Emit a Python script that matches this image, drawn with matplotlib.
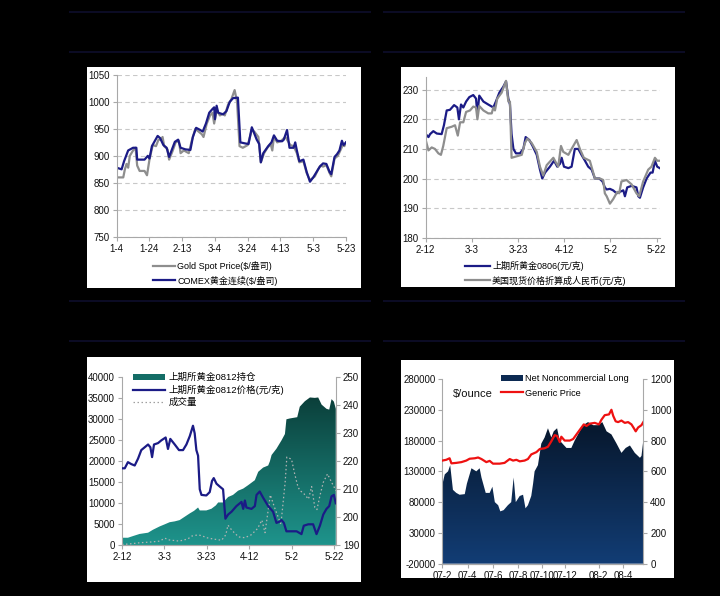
import numpy as np
import matplotlib
matplotlib.use("Agg")
import matplotlib.pyplot as plt
from matplotlib.colors import LinearSegmentedColormap
from matplotlib.patches import Rectangle, Patch
from matplotlib.lines import Line2D

plt.rcParams['font.family'] = ['Liberation Sans', 'Noto Sans CJK SC', 'DejaVu Sans']
plt.rcParams['axes.unicode_minus'] = False

# ---- chart 1 : gold spot vs COMEX ($/oz), x in days from 1-4
c1_ticks = ['1-4', '1-24', '2-13', '3-4', '3-24', '4-13', '5-3', '5-23']
comex_day = [0, 3, 4.5, 7, 10, 12, 12.5, 17, 19, 20, 21.5, 25, 26.5, 28.5, 30.5, 32, 33.5,
             35.5, 37.5, 39, 42, 45, 46.5, 48.5, 51, 52.5, 54.5, 56.5, 58.5, 59.5, 60, 61,
             62, 65, 67, 69, 71, 74, 75.5, 78.5, 80.5, 82.5, 85.5, 87, 88, 89.5, 92.5, 94.5,
             96, 98, 101, 102, 104, 105.5, 108, 109, 110, 111.5, 114, 116, 118, 120, 122,
             124, 126, 128, 130, 131, 133, 134.5, 136, 137.5, 138.5, 140]
comex_val = [878, 875, 890, 910, 915, 915, 893, 893, 900, 895, 918, 937, 933, 920, 915, 898,
             910, 926, 930, 915, 912, 911, 935, 952, 948, 945, 960, 980, 987, 990, 968, 993,
             980, 977, 983, 1000, 1007, 1008, 925, 923, 922, 953, 930, 922, 888, 905, 918,
             925, 938, 928, 927, 930, 948, 915, 915, 925, 910, 890, 893, 870, 852, 860, 870,
             880, 886, 885, 870, 866, 898, 903, 910, 928, 920, 925]
spot_day = [0, 4, 5, 6, 7, 8, 10, 11.5, 12.5, 14, 17, 18.5, 20, 22, 24, 25.5, 27, 28, 29, 31,
            32, 34, 36, 38, 39, 41, 44, 46, 48, 50, 52, 53, 55, 57, 58.5, 59.5, 61, 63, 65,
            66, 68, 70, 72, 73.5, 75, 77, 80, 82.5, 84, 86.5, 88, 90, 92, 94, 95, 96, 98,
            100, 103, 105, 106, 108, 110, 111.5, 114, 116, 118, 121, 123, 124.5, 126, 128,
            130, 131, 133, 135, 137, 138, 139, 140]
spot_val = [860, 860, 875, 885, 878, 900, 910, 915, 882, 872, 872, 864, 893, 920, 918, 930,
            930, 935, 918, 912, 893, 908, 925, 928, 905, 910, 905, 930, 950, 945, 940, 935,
            960, 975, 980, 960, 985, 975, 978, 975, 995, 1005, 1022, 1000, 918, 915, 920,
            948, 945, 935, 888, 905, 915, 922, 910, 935, 925, 927, 935, 925, 920, 918, 905,
            888, 890, 868, 855, 862, 875, 882, 880, 883, 868, 862, 895, 900, 913, 920, 918, 925]

# ---- chart 2 : SHFE 0806 vs US spot in RMB (yuan/g), x in days from 2-12
c2_ticks = ['2-12', '3-3', '3-23', '4-12', '5-2', '5-22']
shfe_day = [0, 1.2, 1.9, 3.3, 4.8, 6.9, 7.9, 9.1, 10.5, 12.3, 13.7, 14.4, 15.3, 16.3, 17.5,
            18.9, 20.6, 21.8, 22.4, 23.2, 25, 27.1, 29.3, 30.4, 31.9, 33.6, 34.8, 35.8, 36.5,
            37.2, 38, 39.1, 40.8, 42.3, 43.3, 44.9, 46.3, 48.1, 49.5, 50.5, 51.7, 53.8, 55.6,
            57, 58.2, 58.9, 59.9, 61.8, 63.2, 63.9, 64.6, 66.1, 66.8, 67.5, 69, 70.4, 71.9,
            73.3, 75.2, 76.6, 77.6, 78.4, 79.8, 81.2, 82.7, 84.1, 85.6, 86.3, 87.3, 89.2,
            91.3, 92.1, 92.8, 94.2, 95.7, 97.4, 98.3, 99.3, 100.3, 101.4]
shfe_val = [215, 214, 215, 216, 215.2, 215, 218, 223, 223.2, 224.8, 224, 220, 225, 224, 226,
            227.5, 228.2, 227, 221.5, 228, 226, 225, 224, 226, 229, 231, 232.8, 227, 225,
            215, 210, 208.5, 208.5, 210, 214, 213, 211, 208, 203, 200, 202, 204, 206, 204,
            205, 207, 204, 203.5, 204, 207, 210, 210, 209, 208, 206, 204, 203, 200, 200, 199,
            197, 196.3, 196.5, 196, 195, 195.5, 196, 194, 197, 197.5, 197, 194, 193.5, 197,
            200, 202, 202, 206, 204, 203.5]
usrmb_day = [0, 1.2, 2.6, 4, 5.5, 6.6, 7.6, 9.1, 11.3, 12.7, 13.9, 14.9, 16.3, 17.5, 19.2,
             20.6, 21.8, 22.4, 23.2, 25, 27.1, 28.6, 29.3, 30, 31, 32.9, 34.8, 35.8, 36.5,
             37.2, 39.4, 41.6, 43, 44, 45.9, 48.1, 49.5, 50.9, 52.4, 55.3, 57.4, 58.6, 59.6,
             61.8, 63.2, 65.4, 66.8, 68.5, 71.1, 73.3, 75.5, 76.9, 77.6, 78.4, 79.8, 81.2,
             83, 83.8, 84.8, 87, 89.2, 91.3, 92.5, 94.2, 96.4, 97.8, 99.3, 100.3, 101.4]
usrmb_val = [213, 209.5, 210.5, 210, 208.5, 208, 211, 217, 217.5, 218, 214.5, 219, 219, 222.5,
             223, 224.3, 224, 220, 224.5, 223, 222, 222, 224, 223, 227, 229, 233, 226, 226,
             207, 207.5, 208, 212, 213.5, 212, 209, 204, 201, 204.5, 207, 204, 211, 209, 208,
             210, 213, 210, 207, 206, 200, 200, 199.5, 195, 194, 191.5, 193, 195.5, 195, 199,
             199.5, 198, 195, 194, 199, 203, 204, 207, 206, 206]

# ---- chart 3 : SHFE 0812 open interest / price / volume
oi_day = [0, 2.8, 5.2, 8.3, 12.3, 14.6, 17.8, 20.2, 22.5, 24.9, 27.2, 29.6, 32, 34, 35.9,
          36.7, 39.8, 42.2, 44.3, 45.4, 47.7, 50.1, 52.4, 54.8, 57.2, 59.5, 62.7, 64.3, 66.6,
          69, 69.8, 70.6, 72.9, 75.3, 76.9, 77.6, 79.2, 82.7, 83.9, 86.3, 88.7, 91, 92.6,
          94.2, 96.5, 97.8, 98.9, 100, 100.9]
oi_val = [1800, 1800, 2200, 2700, 3000, 3700, 4500, 5000, 5500, 5700, 6000, 6800, 7600, 8200,
          9000, 8300, 8300, 8700, 9500, 10200, 10200, 11500, 12000, 13000, 13500, 14300, 15500,
          17500, 18500, 19000, 20000, 21500, 23000, 25000, 26500, 30000, 30200, 30500, 33000,
          34300, 35200, 35100, 35200, 33500, 32500, 32300, 34800, 34200, 32500]
vol_day = [0, 3, 8.3, 14, 17.8, 20.2, 22, 27, 31, 33, 36, 38, 40, 43, 47, 49, 50, 52, 55, 58,
           61, 64, 66, 67.5, 70, 72, 75, 77, 77.8, 80, 81.5, 83, 84, 85.5, 88, 89.5, 91, 92,
           93.5, 95, 97, 98.9, 100, 100.9]
vol_val = [200, 300, 600, 800, 1000, 1700, 1300, 1000, 1500, 2200, 2500, 2200, 1800, 1500,
           1200, 2500, 4800, 3500, 2000, 1800, 2500, 4000, 6000, 3000, 12000, 9000, 5000,
           15000, 21000, 20500, 17000, 14000, 13000, 12500, 11000, 14000, 9000, 8500, 12000,
           15000, 17000, 15000, 14000, 13000]
p0812_day = [0, 1.3, 2.8, 4.4, 6, 7.6, 9.1, 10.7, 12.3, 13.4, 14.2, 15.1, 17, 18.6, 20.6,
             21.7, 22.8, 24.9, 26.9, 28.8, 30.4, 32, 33.5, 34.3, 35.1, 35.9, 36.7, 37.5,
             39.8, 41.4, 42.5, 43.3, 44.6, 46.1, 47.7, 48.8, 50.1, 51.7, 54, 56.4, 57.2, 58,
             58.7, 61.1, 62.7, 63.5, 65, 66.6, 69, 71.3, 72.9, 74.5, 75.3, 76.4, 77.6, 80,
             82.4, 84.7, 85.8, 87.9, 90.2, 91.8, 93.4, 95, 96.5, 97.8, 98.9, 100, 100.9]
p0812_val = [217.5, 217.5, 219.7, 219, 218.5, 221, 224, 225, 226, 225, 221.5, 226, 226.5,
             227.5, 228.5, 224.4, 228, 226, 224, 224, 226, 229, 232.7, 230, 224, 222, 210,
             208, 207.8, 209, 213, 214, 212, 211, 210, 199.5, 201, 202, 204, 205.5, 203, 206,
             203.5, 203, 204, 208, 209.2, 207, 204, 202, 198, 198.5, 199, 198, 195, 195, 195,
             194, 197, 197.5, 197.5, 194, 197, 201, 203, 204, 207.5, 208, 205]

# ---- chart 4 : CFTC net noncommercial long vs generic price, x in weeks from 07-2
c4_ticks = ['07-2', '07-4', '07-6', '07-8', '07-10', '07-12', '08-2', '08-4']
c4_tickpos = [0, 8.3, 16.8, 25, 33, 40.5, 51.5, 59.6]
ncl_wk = [0, 0.8, 1.9, 2.6, 3.5, 4.6, 5.7, 7.4, 8.1, 9.6, 11.2, 12.3, 12.9, 14.3, 15.6, 16.5,
          17.3, 18.4, 19.1, 20.2, 21.6, 22.7, 23.5, 24.2, 25.5, 26.6, 27.4, 28.2, 29.3, 29.9,
          30.4, 31.5, 32.6, 33.7, 34.8, 35.9, 36.7, 37.8, 38.7, 39.6, 40.9, 42.5, 43.6, 44.7,
          46.4, 48, 49.7, 51.3, 52.7, 54.1, 55.7, 57.4, 59, 60.4, 61.8, 63.4, 65.1, 65.6, 66.2]
ncl_val = [108000, 125000, 130000, 140000, 100000, 95000, 92000, 93000, 110000, 135000,
           130000, 135000, 120000, 95000, 95000, 105000, 80000, 75000, 65000, 67000, 75000,
           80000, 120000, 80000, 90000, 92000, 70000, 75000, 90000, 110000, 130000, 140000,
           175000, 185000, 200000, 185000, 195000, 200000, 180000, 175000, 168000, 168000,
           180000, 190000, 205000, 210000, 205000, 205000, 210000, 195000, 190000, 175000,
           160000, 168000, 172000, 160000, 152000, 155000, 180000]
gp_wk = [0, 1.3, 2.4, 3, 4.6, 6.3, 7.9, 9, 10.7, 11.8, 12.9, 14.5, 15.6, 16.7, 18.9, 20.5,
         22.2, 23.3, 24.4, 25.5, 27.1, 28.2, 29.3, 31, 32.1, 33.7, 34.8, 35.9, 37, 37.8, 38.7,
         39.2, 40.3, 42, 43.1, 44.2, 45.3, 46.6, 47.5, 48.6, 50.2, 51.6, 52.4, 53.5, 54.9,
         55.7, 56.3, 57.1, 57.9, 59, 60.1, 61.2, 62.3, 63.1, 63.7, 64.5, 65.6, 66.2]
gp_val = [670, 675, 685, 652, 655, 660, 670, 682, 685, 690, 680, 660, 668, 650, 650, 655, 680,
          670, 675, 665, 670, 680, 710, 725, 745, 750, 760, 795, 835, 830, 790, 825, 800, 800,
          810, 840, 870, 905, 895, 910, 915, 905, 935, 965, 970, 1000, 960, 925, 920, 930,
          915, 920, 905, 880, 860, 885, 900, 920]

NAVY = '#1b1b86'
GRAY = '#8e8e8e'
AXC = '#a8a8a8'
W, H = 720, 596


def fbox(x0, y0, x1, y1):
    # pixel box (top-left origin) -> figure rect
    return [x0 / W, 1 - y1 / H, (x1 - x0) / W, (y1 - y0) / H]


def style(ax, right=False):
    for s in ['top', 'right', 'left', 'bottom']:
        ax.spines[s].set_visible(False)
    ax.spines['bottom'].set_visible(True)
    ax.spines['bottom'].set_color(AXC)
    side = 'right' if right else 'left'
    ax.spines[side].set_visible(True)
    ax.spines[side].set_color(AXC)
    ax.tick_params(colors=AXC, labelcolor='#111111', labelsize=7, length=3, width=0.8, pad=2)
    ax.set_facecolor('none')


def grad_fill(ax, x, y, base, top, c_bot, c_top):
    poly = ax.fill_between(x, y, base, facecolor='none', edgecolor='none')
    cmap = LinearSegmentedColormap.from_list('g', [c_bot, c_top])
    g = np.linspace(0, 1, 256).reshape(-1, 1)
    im = ax.imshow(g, aspect='auto', cmap=cmap, origin='lower',
                   extent=[x[0], x[-1], base, top], zorder=1, interpolation='bilinear')
    im.set_clip_path(poly.get_paths()[0], transform=ax.transData)


fig = plt.figure(figsize=(7.2, 5.96), dpi=100, facecolor='black')

# faint header rules
for yy in [12, 52, 301, 341]:
    for x0, x1 in [(70, 370), (384, 684)]:
        fig.add_artist(Line2D([x0 / W, x1 / W], [1 - yy / H, 1 - yy / H],
                              color='#0c0c26', lw=1.4, transform=fig.transFigure))

# white panels
for b in [(86.5, 66.5, 360.5, 288), (400.7, 66.7, 675, 287),
          (86.7, 356.7, 360.7, 582), (400.7, 360, 674, 578)]:
    r = fbox(*b)
    fig.add_artist(Rectangle((r[0], r[1]), r[2], r[3], facecolor='white',
                             edgecolor='none', transform=fig.transFigure, zorder=0))

# ---- panel 1
ax1 = fig.add_axes(fbox(116.7, 75, 346, 236.7))
style(ax1)
ax1.plot(spot_day, spot_val, color=GRAY, lw=1.6, label='Gold Spot Price($/盎司)')
ax1.plot(comex_day, comex_val, color=NAVY, lw=1.6, label='COMEX黄金连续($/盎司)')
ax1.set_xlim(0, 140)
ax1.set_ylim(750, 1050)
ax1.set_yticks(range(750, 1051, 50))
ax1.set_xticks(range(0, 141, 20))
ax1.set_xticklabels(c1_ticks)
ax1.yaxis.grid(True, color='#c8c8c8', ls=(0, (4, 3)), lw=0.8)
ax1.set_axisbelow(True)
ax1.legend(loc='upper left', bbox_to_anchor=(152.7 / W, 1 - 261 / H),
           bbox_transform=fig.transFigure, frameon=False, fontsize=6.5,
           handlelength=2.5, handletextpad=0.2, labelspacing=0.5, borderpad=0,
           borderaxespad=0)

# ---- panel 2
ax2 = fig.add_axes(fbox(425.7, 76.7, 660, 237.7))
style(ax2)
ax2.plot(shfe_day, shfe_val, color=NAVY, lw=1.6, label='上期所黄金0806(元/克)')
ax2.plot(usrmb_day, usrmb_val, color=GRAY, lw=1.6, label='美国现货价格折算成人民币(元/克)')
ax2.set_xlim(0, 101.5)
ax2.set_ylim(180, 234.4)
ax2.set_yticks(range(180, 231, 10))
ax2.set_xticks(range(0, 101, 20))
ax2.set_xticklabels(c2_ticks)
ax2.yaxis.grid(True, color='#c8c8c8', ls=(0, (4, 3)), lw=0.8)
ax2.set_axisbelow(True)
ax2.legend(loc='upper left', bbox_to_anchor=(465 / W, 1 - 261 / H),
           bbox_transform=fig.transFigure, frameon=False, fontsize=6.5,
           handlelength=2.8, handletextpad=0.2, labelspacing=0.5, borderpad=0,
           borderaxespad=0)

# ---- panel 3
ax3 = fig.add_axes(fbox(122, 377.3, 336, 545.3))
style(ax3)
grad_fill(ax3, oi_day, oi_val, 0, max(oi_val), '#1e948c', '#0b3f3a')
ax3.plot(vol_day, vol_val, color='#b4b4b4', lw=0.9, ls=(0, (1.2, 2)), zorder=2)
ax3.set_xlim(0, 101)
ax3.set_ylim(0, 40000)
ax3.set_yticks(range(0, 40001, 5000))
ax3.set_xticks(range(0, 101, 20))
ax3.set_xticklabels(c2_ticks)
ax3r = ax3.twinx()
style(ax3r, right=True)
ax3r.plot(p0812_day, p0812_val, color=NAVY, lw=1.6)
ax3r.set_ylim(190, 250)
ax3r.set_yticks(range(190, 251, 10))
ax3r.set_xlim(0, 101)
h3 = [Patch(facecolor='#146d66', edgecolor='none'),
      Line2D([], [], color=NAVY, lw=1.6),
      Line2D([], [], color='#a0a0a0', lw=0.9, ls=(0, (1.2, 2)))]
ax3r.legend(h3, ['上期所黄金0812持仓', '上期所黄金0812价格(元/克)', '成交量'],
            loc='upper left', bbox_to_anchor=(132.7 / W, 1 - 373 / H),
            bbox_transform=fig.transFigure, frameon=False, fontsize=6.8,
            handlelength=3.4, handletextpad=0.4, labelspacing=0.3, borderpad=0,
            borderaxespad=0)

# ---- panel 4
ax4 = fig.add_axes(fbox(442.3, 379, 643.3, 563.7))
style(ax4)
grad_fill(ax4, ncl_wk, ncl_val, -20000, max(ncl_val), '#123d75', '#07172c')
ax4.set_xlim(0, 66.2)
ax4.set_ylim(-20000, 280000)
ax4.set_yticks(range(-20000, 280001, 50000))
ax4.set_xticks(c4_tickpos)
ax4.set_xticklabels(c4_ticks)
ax4r = ax4.twinx()
style(ax4r, right=True)
ax4r.plot(gp_wk, gp_val, color='#ee1111', lw=1.6)
ax4r.set_ylim(0, 1200)
ax4r.set_yticks(range(0, 1201, 200))
ax4r.set_xlim(0, 66.2)
h4 = [Patch(facecolor='#0c2a52', edgecolor='none'), Line2D([], [], color='#ee1111', lw=1.6)]
ax4r.legend(h4, ['Net Noncommercial Long', 'Generic Price'],
            loc='upper left', bbox_to_anchor=(500.7 / W, 1 - 374 / H),
            bbox_transform=fig.transFigure, frameon=False, fontsize=6.6,
            handlelength=2.4, handletextpad=0.3, labelspacing=0.6, borderpad=0,
            borderaxespad=0)
fig.text(452.7 / W, 1 - 393.7 / H, '$/ounce', fontsize=8, va='center', ha='left',
         color='#111111')

fig.savefig('out.png', dpi=100, facecolor='black')
